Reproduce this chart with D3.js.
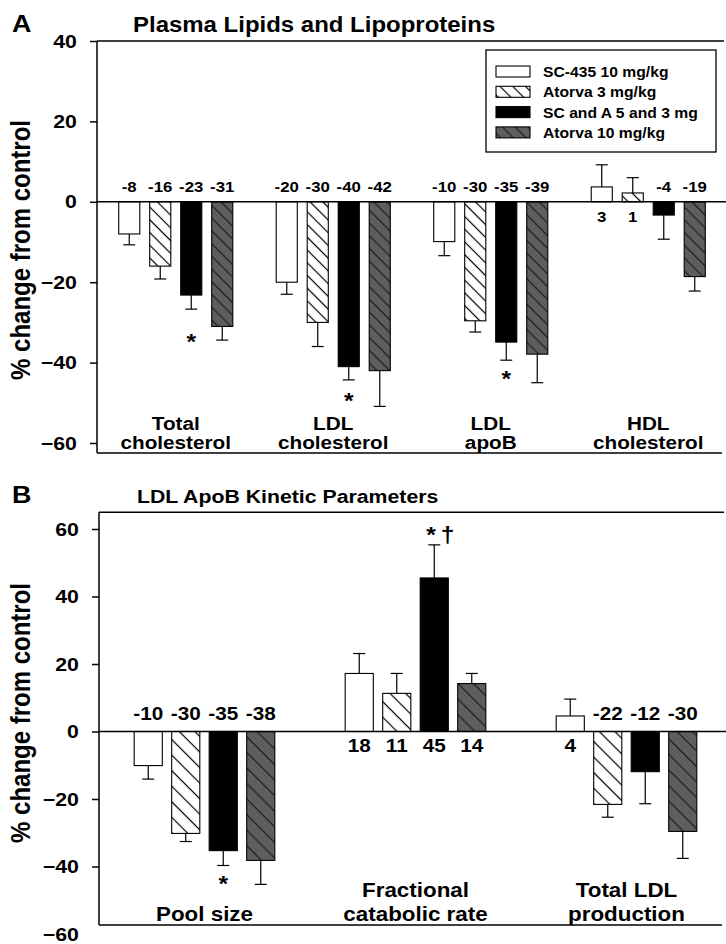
<!DOCTYPE html>
<html>
<head>
<meta charset="utf-8">
<script src="https://cdn.jsdelivr.net/npm/d3@7/dist/d3.min.js"></script>
<style>
  body { margin: 0; background: #fff; }
  svg { display: block; }
</style>
</head>
<body>
<div id="fig"></div>
<script>
// ---- data ----
const seriesNames = ["SC-435 10 mg/kg", "Atorva 3 mg/kg", "SC and A 5 and 3 mg", "Atorva 10 mg/kg"];

const groupsA = ["Total cholesterol", "LDL cholesterol", "LDL apoB", "HDL cholesterol"];
const groupLinesA = [["Total", "cholesterol"], ["LDL", "cholesterol"], ["LDL", "apoB"], ["HDL", "cholesterol"]];
const meanA = [
    [-8, -16, -23.2, -31],
    [-20, -30, -41, -42],
    [-9.9, -29.6, -34.9, -37.9],
    [3.7, 2.2, -3.3, -18.6]
];
const semA = [
    [2.7, 3.2, 3.5, 3.4],
    [3, 6, 3.3, 8.9],
    [3.5, 2.8, 4.5, 7.1],
    [5.5, 3.8, 6, 3.6]
];
const labelA = [
    [-8, -16, -23, -31],
    [-20, -30, -40, -42],
    [-10, -30, -35, -39],
    [3, 1, -4, -19]
];
const ticksA = [40, 20, 0, -20, -40, -60];
// significance marks: [group, series, text, value where the mark sits]
const marksA = [[0, 2, "*", -33.6], [1, 2, "*", -48.3], [2, 2, "*", -42.8]];

const groupsB = ["Pool size", "Fractional catabolic rate", "Total LDL production"];
const groupLinesB = [["Pool size"], ["Fractional", "catabolic rate"], ["Total LDL", "production"]];
const meanB = [
    [-10.1, -30.2, -35.3, -38.2],
    [17.2, 11.3, 45.5, 14.2],
    [4.6, -21.6, -11.9, -29.6]
];
const semB = [
    [4, 2.4, 4.4, 7.1],
    [5.9, 5.9, 9.8, 3],
    [5, 3.8, 9.5, 8]
];
const labelB = [
    [-10, -30, -35, -38],
    [18, 11, 45, 14],
    [4, -22, -12, -30]
];
const ticksB = [60, 40, 20, 0, -20, -40, -60];
const marksB = [[0, 2, "*", -43.6], [1, 2, "*\u2009\u2020", 59.7]];

// ---- layout ----
const W = 726, H = 944;
const SX = 1.12; // the scanned figure is a bit wide
const FONT = "'Liberation Sans', Arial, Helvetica, sans-serif";

const svg = d3.select("#fig").append("svg")
    .attr("width", W).attr("height", H)
    .style("font-family", FONT)
    .style("font-weight", "bold");

const defs = svg.append("defs");
function addHatch(id, size, bg, fg){
    let p = defs.append("pattern")
        .attr("id", id)
        .attr("patternUnits", "userSpaceOnUse")
        .attr("width", size).attr("height", size)
        .attr("patternTransform", "rotate(-45)");
    p.append("rect").attr("width", size).attr("height", size).attr("fill", bg);
    p.append("line")
        .attr("x1", size / 2).attr("x2", size / 2)
        .attr("y1", 0).attr("y2", size)
        .attr("stroke", fg).attr("stroke-width", 1.2);
}
addHatch("hatchA", 9, "#fff", "#000");
addHatch("greyA", 9, "#5e5e5e", "#1c1c1c");
addHatch("hatchB", 11, "#fff", "#000");
addHatch("greyB", 11, "#5e5e5e", "#1c1c1c");

function fillFor(s, panel){
    if (s === 0) return "#fff";
    if (s === 1) return "url(#hatch" + panel + ")";
    if (s === 2) return "#000";
    return "url(#grey" + panel + ")";
}

function addText(g, x, y, str, size, anchor){
    return g.append("text")
        .attr("transform", `translate(${x},${y}) scale(${SX},1)`)
        .attr("text-anchor", anchor || "middle")
        .style("font-size", size + "px")
        .text(str);
}

function drawPanel(cfg){
    const g = svg.append("g");
    const y = d3.scaleLinear().domain(cfg.yDomain).range(cfg.yRange);
    const x0 = d3.scaleBand().domain(cfg.groups).range([cfg.left, cfg.right]);
    const x1 = d3.scaleBand().domain(d3.range(4))
        .range(cfg.inner).paddingInner(cfg.pi).paddingOuter(cfg.po);
    const bw = x1.bandwidth();
    const yTop = y(cfg.frame[0]), yBot = y(cfg.frame[1]);

    // frame
    g.append("line").attr("x1", cfg.left).attr("x2", 724)
        .attr("y1", yTop).attr("y2", yTop).attr("stroke", "#000").attr("stroke-width", 1.5);
    g.append("line").attr("x1", cfg.left).attr("x2", 722)
        .attr("y1", yBot).attr("y2", yBot).attr("stroke", "#000").attr("stroke-width", 1.5);

    // y axis
    const ax = g.append("g").attr("transform", `translate(${cfg.left},0)`)
        .call(d3.axisLeft(y).tickValues(cfg.ticks).tickSize(7).tickPadding(11));
    ax.select(".domain").remove();
    ax.selectAll(".tick line").attr("stroke-width", 1.5)
        .filter(d => y(d) > yBot + 1).remove();
    ax.selectAll(".tick text")
        .attr("fill", "#000")
        .style("font-family", FONT).style("font-weight", "bold")
        .style("font-size", "19px")
        .attr("transform", `scale(${SX},1)`);
    g.append("line").attr("x1", cfg.left).attr("x2", cfg.left)
        .attr("y1", yTop).attr("y2", yBot).attr("stroke", "#000").attr("stroke-width", 1.5);

    // bars
    cfg.groups.forEach(function(grp, gi){
        const cx = x0(grp) + x0.bandwidth() / 2;
        for (let s = 0; s < 4; s++){
            const v = cfg.mean[gi][s];
            const bx = cx + x1(s);
            const mid = bx + bw / 2;
            g.append("rect")
                .attr("x", bx).attr("width", bw)
                .attr("y", Math.min(y(v), y(0)))
                .attr("height", Math.abs(y(v) - y(0)))
                .attr("fill", fillFor(s, cfg.id))
                .attr("stroke", "#000").attr("stroke-width", 1.1);
            // one-sided error bar
            const e = v >= 0 ? v + cfg.sem[gi][s] : v - cfg.sem[gi][s];
            g.append("line").attr("x1", mid).attr("x2", mid)
                .attr("y1", y(v)).attr("y2", y(e))
                .attr("stroke", "#000").attr("stroke-width", 1.2);
            g.append("line").attr("x1", mid - 6).attr("x2", mid + 6)
                .attr("y1", y(e)).attr("y2", y(e))
                .attr("stroke", "#000").attr("stroke-width", 1.2);
            // value label
            const ly = v >= 0 ? y(0) + cfg.posOff : y(0) - cfg.negOff;
            addText(g, mid, ly, cfg.labels[gi][s], cfg.valSize);
        }
        // category label
        const lines = cfg.groupLines[gi];
        lines.forEach(function(t, li){
            addText(g, cx, cfg.catBase - (lines.length - 1 - li) * cfg.catLH, t, cfg.catSize);
        });
    });

    // zero line
    g.append("line").attr("x1", cfg.left).attr("x2", 726)
        .attr("y1", y(0)).attr("y2", y(0)).attr("stroke", "#000").attr("stroke-width", 1.5);

    // significance marks
    cfg.marks.forEach(function(m){
        const cx = x0(cfg.groups[m[0]]) + x0.bandwidth() / 2 + x1(m[1]) + bw / 2;
        addText(g, cx + (m[2].length > 1 ? 6 : 0), y(m[3]) + 12, m[2], 22);
    });

    // titles
    addText(g, 12, cfg.titleBase, cfg.letter, 24, "start");
    addText(g, cfg.titleX, cfg.titleBase, cfg.title, cfg.titleSize, "start");
    g.append("text")
        .attr("transform", `translate(30,${cfg.ylabY}) scale(${SX},1) rotate(-90)`)
        .attr("text-anchor", "middle")
        .style("font-size", "24px")
        .text("% change from control");
    return g;
}

drawPanel({
    id: "A", letter: "A", title: "Plasma Lipids and Lipoproteins",
    titleX: 133, titleBase: 32, titleSize: 21.4, ylabY: 250,
    groups: groupsA, groupLines: groupLinesA,
    mean: meanA, sem: semA, labels: labelA, ticks: ticksA, marks: marksA,
    left: 97, right: 727,
    yDomain: [40, -60], yRange: [41, 443], frame: [40, -62.5],
    inner: [-62, 62], pi: 0.32, po: 0.16,
    valSize: 15, posOff: 20, negOff: 10,
    catSize: 18.5, catBase: 449, catLH: 19
});

drawPanel({
    id: "B", letter: "B", title: "LDL ApoB Kinetic Parameters",
    titleX: 137, titleBase: 503, titleSize: 19, ylabY: 713,
    groups: groupsB, groupLines: groupLinesB,
    mean: meanB, sem: semB, labels: labelB, ticks: ticksB, marks: marksB,
    left: 99, right: 732,
    yDomain: [60, -60], yRange: [529, 934], frame: [65, -57.3],
    inner: [-75, 75], pi: 0.25, po: 0.125,
    valSize: 18.5, posOff: 20, negOff: 12,
    catSize: 20, catBase: 921, catLH: 24
});

// legend (top panel)
const leg = svg.append("g");
leg.append("rect").attr("x", 486).attr("y", 50).attr("width", 230).attr("height", 102)
    .attr("fill", "#fff").attr("stroke", "#000").attr("stroke-width", 1.3);
seriesNames.forEach(function(name, i){
    const top = 66 + i * 20.3;
    leg.append("rect").attr("x", 496).attr("y", top).attr("width", 34).attr("height", 11)
        .attr("fill", fillFor(i, "A")).attr("stroke", "#000").attr("stroke-width", 1.1);
    addText(leg, 543, top + 11, name, 14, "start");
});
</script>
</body>
</html>
